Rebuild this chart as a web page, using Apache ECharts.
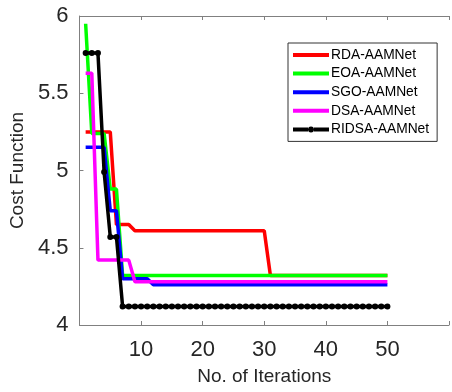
<!DOCTYPE html>
<html>
<head>
<meta charset="utf-8">
<script src="https://cdn.jsdelivr.net/npm/echarts@6/dist/echarts.min.js"></script>
<style>html,body{margin:0;padding:0;background:#fff;}#c{width:452px;height:392px;}</style>
</head>
<body>
<div id="c"></div>
<script>
const iterations = [1,2,3,4,5,6,7,8,9,10,11,12,13,14,15,16,17,18,19,20,21,22,23,24,25,26,27,28,29,30,31,32,33,34,35,36,37,38,39,40,41,42,43,44,45,46,47,48,49,50];
const rda   = [5.25,5.25,5.25,5.25,5.25,4.65,4.65,4.65,4.61,4.61,4.61,4.61,4.61,4.61,4.61,4.61,4.61,4.61,4.61,4.61,4.61,4.61,4.61,4.61,4.61,4.61,4.61,4.61,4.61,4.61,4.32,4.32,4.32,4.32,4.32,4.32,4.32,4.32,4.32,4.32,4.32,4.32,4.32,4.32,4.32,4.32,4.32,4.32,4.32,4.32];
const eoa   = [5.95,5.24,5.24,5.24,4.88,4.88,4.32,4.32,4.32,4.32,4.32,4.32,4.32,4.32,4.32,4.32,4.32,4.32,4.32,4.32,4.32,4.32,4.32,4.32,4.32,4.32,4.32,4.32,4.32,4.32,4.32,4.32,4.32,4.32,4.32,4.32,4.32,4.32,4.32,4.32,4.32,4.32,4.32,4.32,4.32,4.32,4.32,4.32,4.32,4.32];
const sgo   = [5.15,5.15,5.15,5.15,4.74,4.74,4.30,4.30,4.30,4.30,4.30,4.26,4.26,4.26,4.26,4.26,4.26,4.26,4.26,4.26,4.26,4.26,4.26,4.26,4.26,4.26,4.26,4.26,4.26,4.26,4.26,4.26,4.26,4.26,4.26,4.26,4.26,4.26,4.26,4.26,4.26,4.26,4.26,4.26,4.26,4.26,4.26,4.26,4.26,4.26];
const dsa   = [5.63,5.63,4.42,4.42,4.42,4.42,4.42,4.42,4.28,4.28,4.28,4.28,4.28,4.28,4.28,4.28,4.28,4.28,4.28,4.28,4.28,4.28,4.28,4.28,4.28,4.28,4.28,4.28,4.28,4.28,4.28,4.28,4.28,4.28,4.28,4.28,4.28,4.28,4.28,4.28,4.28,4.28,4.28,4.28,4.28,4.28,4.28,4.28,4.28,4.28];
const ridsa = [5.76,5.76,5.76,4.99,4.57,4.57,4.12,4.12,4.12,4.12,4.12,4.12,4.12,4.12,4.12,4.12,4.12,4.12,4.12,4.12,4.12,4.12,4.12,4.12,4.12,4.12,4.12,4.12,4.12,4.12,4.12,4.12,4.12,4.12,4.12,4.12,4.12,4.12,4.12,4.12,4.12,4.12,4.12,4.12,4.12,4.12,4.12,4.12,4.12,4.12];
const seriesNames = ['RDA-AAMNet','EOA-AAMNet','SGO-AAMNet','DSA-AAMNet','RIDSA-AAMNet'];
const xTickLabels = ['10','20','30','40','50'];
const yTickLabels = ['4','4.5','5','5.5','6'];

const FONT = '"Liberation Sans", Arial, Helvetica, sans-serif';
const AX = '#808080';
const TXT = '#262626';
const pair = arr => iterations.map((x, i) => [x, arr[i]]);

const colors = ['#ff0000','#00ff00','#0000ff','#ff00ff','#000000'];
const datas = [rda, eoa, sgo, dsa, ridsa];
const LINE_ICON = 'path://M0,0H36V4H0Z';
const MARK_ICON = 'path://M0,-2H15V2H0Z M21,-2H36V2H21Z M21,0A3,3 0 1 1 15,0A3,3 0 1 1 21,0Z';

const series = datas.map((d, k) => ({
  name: seriesNames[k],
  type: 'line',
  data: pair(d),
  showSymbol: k === 4,
  symbol: k === 4 ? 'circle' : 'none',
  symbolSize: 6,
  itemStyle: { color: colors[k] },
  lineStyle: { color: colors[k], width: 3.5 },
  emphasis: { disabled: true },
  silent: true,
  z: 2 + k
}));

const chart = echarts.init(document.getElementById('c'), null, { renderer: 'canvas' });
chart.setOption({
  animation: false,
  backgroundColor: '#fff',
  textStyle: { fontFamily: FONT },
  grid: { left: 74, top: 16, width: 388, height: 309, containLabel: false },
  legend: {
    data: seriesNames.map((n, k) => ({ name: n, icon: k === 4 ? MARK_ICON : LINE_ICON })),
    orient: 'vertical',
    left: 288, top: 43,
    padding: [5, 8, 5, 5],
    itemWidth: 36, itemHeight: 14, itemGap: 4.6,
    symbolKeepAspect: true,
    backgroundColor: '#fff',
    borderColor: '#333', borderWidth: 1, borderRadius: 0,
    textStyle: { fontFamily: FONT, fontSize: 13.8, color: '#000', lineHeight: 14, padding: [0,0,0,-3] }
  },
  xAxis: [{
    type: 'value', min: 0, max: 60, interval: 10,
    name: 'No. of Iterations', nameLocation: 'middle', nameGap: 42,
    nameTextStyle: { fontFamily: FONT, fontSize: 19, color: TXT },
    axisLine: { show: true, onZero: false, lineStyle: { color: AX, width: 1 } },
    axisTick: { show: true, inside: true, length: 4, lineStyle: { color: AX } },
    axisLabel: { fontFamily: FONT, fontSize: 22, color: TXT, margin: 14,
      formatter: v => xTickLabels.indexOf(String(v)) >= 0 ? String(v) : '' },
    splitLine: { show: false }
  }, {
    type: 'value', min: 0, max: 60, interval: 10, position: 'top',
    axisLine: { show: true, onZero: false, lineStyle: { color: AX, width: 1 } },
    axisTick: { show: true, inside: true, length: 4, lineStyle: { color: AX } },
    axisLabel: { show: false }, splitLine: { show: false }
  }],
  yAxis: [{
    type: 'value', min: 4, max: 6, interval: 0.5,
    name: 'Cost Function', nameLocation: 'middle', nameGap: 47,
    nameTextStyle: { fontFamily: FONT, fontSize: 19, color: TXT },
    axisLine: { show: true, onZero: false, lineStyle: { color: AX, width: 1 } },
    axisTick: { show: true, inside: true, length: 4, lineStyle: { color: AX } },
    axisLabel: { fontFamily: FONT, fontSize: 22, color: TXT, margin: 11,
      formatter: v => { const s = String(v); return yTickLabels.indexOf(s) >= 0 ? s : ''; } },
    splitLine: { show: false }
  }],
  series: series
});
</script>
</body>
</html>
